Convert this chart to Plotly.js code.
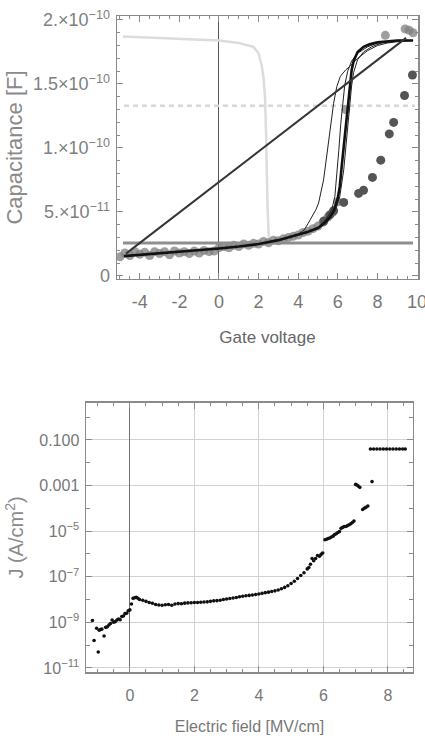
<!DOCTYPE html>
<html>
<head>
<meta charset="utf-8">
<script src="https://cdn.plot.ly/plotly-3.0.1.min.js"></script>
<style>html,body{margin:0;padding:0;background:#fff;}#chart{width:425px;height:738px;}</style>
</head>
<body>
<div id="chart"></div>
<script>
// ---------- Top panel: capacitance vs gate voltage ----------
const lightCurveV = [-4.85, -3, -1, 0, 1, 1.74, 2.0, 2.16, 2.25, 2.33, 2.38, 2.41, 2.45, 2.5, 2.53];
const lightCurveC = [1.87e-10, 1.86e-10, 1.845e-10, 1.84e-10, 1.82e-10, 1.79e-10, 1.74e-10, 1.64e-10, 1.55e-10, 1.38e-10, 1.1e-10, 8e-11, 5.5e-11, 3.5e-11, 2.8e-11];

const dashedLevelV = [-4.8, 9.9];
const dashedLevelC = [1.33e-10, 1.33e-10];

const grayLevelV = [-4.85, 9.8];
const grayLevelC = [2.58e-11, 2.58e-11];

const straightV = [-4.7, 9.45];
const straightC = [1.75e-11, 1.86e-10];

const grayDotsV = [-5.0,-4.75,-4.5,-4.25,-4.0,-3.75,-3.5,-3.25,-3.0,-2.75,-2.5,-2.25,-2.0,-1.75,-1.5,-1.25,-1.0,-0.75,-0.5,-0.25,0.0,0.25,0.5,0.75,1.0,1.25,1.5,1.75,2.0,2.25,2.5,2.75,3.0,3.25,3.5,3.75,4.0,4.25,4.5,4.75,5.0,5.25,5.5,5.75,6.0,6.4,8.4,9.4,9.6,9.8];
const grayDotsC = [1.5e-11,1.8e-11,1.6e-11,1.9e-11,1.7e-11,1.85e-11,1.6e-11,1.9e-11,1.75e-11,1.9e-11,1.65e-11,1.95e-11,1.8e-11,1.9e-11,1.75e-11,1.95e-11,1.8e-11,2.0e-11,1.9e-11,1.95e-11,2.2e-11,2.3e-11,2.2e-11,2.4e-11,2.3e-11,2.5e-11,2.4e-11,2.55e-11,2.5e-11,2.7e-11,2.6e-11,2.8e-11,2.75e-11,2.9e-11,3.0e-11,3.1e-11,3.2e-11,3.4e-11,3.5e-11,3.7e-11,3.9e-11,4.2e-11,4.6e-11,5.0e-11,5.8e-11,1.3e-10,1.88e-10,1.93e-10,1.92e-10,1.9e-10];

const darkDotsV = [5.3, 5.6, 5.79, 6.3, 7.05, 7.3, 7.75, 8.17, 8.6, 8.82, 9.37, 9.77];
const darkDotsC = [4.3e-11, 4.77e-11, 5.1e-11, 5.75e-11, 6.45e-11, 6.7e-11, 7.7e-11, 9.05e-11, 1.11e-10, 1.2e-10, 1.41e-10, 1.57e-10];

const sweepMainV = [-4.8,-4,-3,-2,-1,0,1,2,3,4,4.5,5,5.3,5.6,5.8,6.0,6.1,6.2,6.3,6.4,6.5,6.6,6.7,6.8,7.0,7.3,7.6,8.0,8.5,9.0,9.5,9.8];
const sweepMainC = [1.55e-11,1.65e-11,1.75e-11,1.85e-11,2.0e-11,2.15e-11,2.3e-11,2.5e-11,2.8e-11,3.2e-11,3.45e-11,3.75e-11,4.1e-11,4.6e-11,5.1e-11,6.1e-11,7.0e-11,8.6e-11,1.02e-10,1.18e-10,1.34e-10,1.5e-10,1.61e-10,1.68e-10,1.75e-10,1.79e-10,1.81e-10,1.825e-10,1.835e-10,1.84e-10,1.84e-10,1.84e-10];

const sweepEarlyV = [4.0,4.3,4.5,4.7,4.9,5.03,5.15,5.28,5.4,5.54,5.66,5.79,5.95,6.13,6.4,6.63,7.0,7.5,8.0,8.5,9.0,9.8];
const sweepEarlyC = [3.25e-11,3.6e-11,4.1e-11,4.6e-11,5.2e-11,5.7e-11,6.5e-11,7.5e-11,8.9e-11,1.06e-10,1.2e-10,1.35e-10,1.48e-10,1.56e-10,1.61e-10,1.64e-10,1.7e-10,1.76e-10,1.8e-10,1.82e-10,1.83e-10,1.84e-10];

const sweepMidV = [4.5,5.0,5.4,5.7,5.85,5.95,6.05,6.15,6.25,6.35,6.5,6.7,7.0,7.5,8.0,9.0,9.8];
const sweepMidC = [3.45e-11,3.8e-11,4.4e-11,5.2e-11,6.2e-11,7.8e-11,9.8e-11,1.19e-10,1.36e-10,1.49e-10,1.6e-10,1.68e-10,1.74e-10,1.79e-10,1.82e-10,1.84e-10,1.84e-10];

const sweepLateV = [5.0,5.5,5.9,6.1,6.3,6.4,6.5,6.6,6.7,6.8,7.0,7.3,7.7,8.2,9.0,9.8];
const sweepLateC = [3.7e-11,4.3e-11,5.2e-11,6.2e-11,8.3e-11,1.0e-10,1.18e-10,1.35e-10,1.49e-10,1.59e-10,1.69e-10,1.75e-10,1.79e-10,1.82e-10,1.84e-10,1.84e-10];

const capTickVals = [0, 5e-11, 1e-10, 1.5e-10, 2e-10];
const capTickText = ['0', '5.\u00d710<sup>\u221211</sup>', '1.\u00d710<sup>\u221210</sup>', '1.5\u00d710<sup>\u221210</sup>', '2.\u00d710<sup>\u221210</sup>'];
const gateTickVals = [-4, -2, 0, 2, 4, 6, 8, 10];
const gateTickText = ['-4', '-2', '0', '2', '4', '6', '8', '10'];

// ---------- Bottom panel: J vs electric field ----------
const efield = [-1.16,-1.11,-1.03,-0.98,-0.95,-0.92,-0.87,-0.80,-0.75,-0.70,-0.65,-0.60,-0.55,-0.50,-0.45,-0.40,-0.35,-0.30,-0.25,-0.20,-0.15,-0.10,-0.05,0.0,
  0.05,0.1,0.15,0.2,0.25,0.3,0.4,0.5,0.6,0.7,0.8,0.9,1.0,1.1,1.2,1.3,1.4,1.5,1.6,1.7,1.8,1.9,2.0,2.1,2.2,2.3,2.4,2.5,2.6,2.7,2.8,2.9,3.0,3.1,3.2,3.3,3.4,3.5,3.6,3.7,3.8,3.9,4.0,4.1,4.2,4.3,4.4,4.5,4.6,4.7,4.8,4.9,5.0,5.1,5.2,5.3,5.4,5.5,
  5.55,5.6,5.65,5.7,5.76,5.82,5.88,5.93,5.98,6.05,6.1,6.15,6.2,6.25,6.3,6.35,6.4,6.45,6.5,6.55,6.6,6.65,6.7,6.75,6.8,6.85,6.9,6.95,
  7.0,7.04,7.08,7.13,7.22,7.27,7.32,7.38,7.51,
  7.46,7.56,7.66,7.76,7.86,7.96,8.06,8.16,8.26,8.36,8.46,8.54];
const currentDensity = [1.2e-9,1.6e-10,5.5e-10,5e-11,4.5e-10,4.8e-10,5e-10,2.5e-10,6e-10,6.3e-10,7.6e-10,8.9e-10,1.26e-9,1.0e-9,1.07e-9,1.26e-9,1.4e-9,1.3e-9,1.8e-9,1.9e-9,2.4e-9,2.5e-9,3.2e-9,3.5e-9,
  6.3e-9,1.12e-8,1.2e-8,1.26e-8,1.12e-8,1.0e-8,9.3e-9,8.3e-9,7.4e-9,6.8e-9,6.0e-9,5.75e-9,5.6e-9,5.9e-9,6.0e-9,5.6e-9,6.3e-9,6.6e-9,6.5e-9,6.9e-9,7.1e-9,7.2e-9,7.4e-9,7.4e-9,7.6e-9,7.8e-9,7.9e-9,8.3e-9,8.7e-9,8.9e-9,9.3e-9,1.0e-8,1.05e-8,1.1e-8,1.17e-8,1.23e-8,1.32e-8,1.38e-8,1.45e-8,1.51e-8,1.58e-8,1.66e-8,1.74e-8,1.86e-8,2.0e-8,2.1e-8,2.24e-8,2.4e-8,2.6e-8,2.95e-8,3.4e-8,4.0e-8,5.0e-8,6.3e-8,8.3e-8,1.12e-7,1.5e-7,2.2e-7,
  2.5e-7,3.5e-7,6.3e-7,5.0e-7,6.3e-7,8.5e-7,7.9e-7,9.5e-7,1.1e-6,4.2e-6,4.4e-6,4.7e-6,5.0e-6,5.5e-6,6.0e-6,7.1e-6,7.6e-6,8.7e-6,9.5e-6,1.32e-5,1.45e-5,1.58e-5,1.58e-5,1.74e-5,1.9e-5,2.1e-5,2.4e-5,2.75e-5,
  1.12e-3,1.05e-3,9.5e-4,8.3e-4,8.9e-5,1.0e-4,1.1e-4,1.26e-4,1.48e-3,
  0.04,0.04,0.04,0.04,0.04,0.04,0.04,0.04,0.04,0.04,0.04,0.04];

const jTickVals = [0.1, 0.001, 1e-5, 1e-7, 1e-9, 1e-11];
const jTickText = ['0.100', '0.001', '10<sup>\u22125</sup>', '10<sup>\u22127</sup>', '10<sup>\u22129</sup>', '10<sup>\u221211</sup>'];
const jMinorVals = [1, 0.01, 1e-4, 1e-6, 1e-8, 1e-10];

const FONT = '"Liberation Sans", Arial, sans-serif';

function line(x, y, color, width, extra) {
  return Object.assign({x: x, y: y, type: 'scatter', mode: 'lines', xaxis: 'x', yaxis: 'y',
    line: {color: color, width: width}, hoverinfo: 'skip'}, extra || {});
}

const traces = [
  line(lightCurveV, lightCurveC, '#dcdcdc', 2.5),
  line(dashedLevelV, dashedLevelC, '#d8d8d8', 2.5, {line: {color: '#d8d8d8', width: 2.5, dash: '5px,4px'}}),
  {x: grayDotsV, y: grayDotsC, type: 'scatter', mode: 'markers', xaxis: 'x', yaxis: 'y',
   marker: {color: 'rgba(125,125,125,0.75)', size: 9}},
  {x: darkDotsV, y: darkDotsC, type: 'scatter', mode: 'markers', xaxis: 'x', yaxis: 'y',
   marker: {color: '#555555', size: 9}},
  line(grayLevelV, grayLevelC, '#8e8e8e', 3),
  line(sweepLateV, sweepLateC, '#222', 1),
  line(sweepMidV, sweepMidC, '#222', 1),
  line(sweepEarlyV, sweepEarlyC, '#222', 1),
  line(sweepMainV, sweepMainC, '#111', 2.6),
  line(straightV, straightC, '#353535', 2),
  {x: efield, y: currentDensity, type: 'scatter', mode: 'markers', xaxis: 'x2', yaxis: 'y2',
   marker: {color: '#111', size: 3.6}}
];

const frame = {showline: true, linecolor: '#8a8a8a', linewidth: 1.5, mirror: 'ticks', ticks: 'inside',
  tickcolor: '#8a8a8a', tickwidth: 1, ticklen: 6, ticklabeloverflow: 'allow'};

const layout = {
  width: 425, height: 738,
  margin: {l: 86, r: 7, t: 16, b: 66},
  paper_bgcolor: '#fff', plot_bgcolor: '#fff',
  showlegend: false,
  xaxis: Object.assign({}, frame, {
    domain: [0.0934, 1], anchor: 'y', range: [-5.15, 10.05],
    tickmode: 'array', tickvals: gateTickVals, ticktext: gateTickText,
    minor: {tickmode: 'linear', tick0: 0, dtick: 0.5, ticks: 'inside', ticklen: 3, tickcolor: '#8a8a8a'},
    showgrid: false, zeroline: true, zerolinecolor: '#555', zerolinewidth: 1,
    ticklabelstandoff: 6,
    tickfont: {family: FONT, size: 18, color: '#777'},
    title: {text: 'Gate voltage', font: {family: FONT, size: 17, color: '#666'}, standoff: 20}
  }),
  yaxis: Object.assign({}, frame, {
    domain: [0.5991, 1], anchor: 'x', range: [-2.34e-12, 2.031e-10],
    tickmode: 'array', tickvals: capTickVals, ticktext: capTickText,
    minor: {tickmode: 'linear', tick0: 0, dtick: 1e-11, ticks: 'inside', ticklen: 3, tickcolor: '#8a8a8a'},
    showgrid: false, zeroline: false,
    ticklabelstandoff: 2,
    tickfont: {family: FONT, size: 18, color: '#808080'},
    title: {text: 'Capacitance [F]', font: {family: FONT, size: 22, color: '#8a8a8a'}, standoff: 4}
  }),
  xaxis2: Object.assign({}, frame, {
    domain: [0, 0.9849], anchor: 'y2', range: [-1.36, 8.78],
    tickmode: 'linear', tick0: 0, dtick: 2,
    minor: {tickmode: 'linear', tick0: 0, dtick: 0.5, ticks: 'inside', ticklen: 3, tickcolor: '#8a8a8a'},
    showgrid: true, gridcolor: '#d2d2d2', gridwidth: 1,
    zeroline: true, zerolinecolor: '#707070', zerolinewidth: 1,
    ticklabelstandoff: 8,
    tickfont: {family: FONT, size: 16, color: '#777'},
    title: {text: 'Electric field [MV/cm]', font: {family: FONT, size: 16, color: '#777'}, standoff: 18}
  }),
  yaxis2: Object.assign({}, frame, {
    type: 'log', domain: [0, 0.4101], anchor: 'x2', range: [-11.18, 0.62],
    tickmode: 'array', tickvals: jTickVals, ticktext: jTickText,
    minor: {tickmode: 'array', tickvals: jMinorVals, ticks: 'inside', ticklen: 4, tickcolor: '#8a8a8a'},
    showgrid: true, gridcolor: '#d2d2d2', gridwidth: 1,
    ticklabelstandoff: 2,
    tickfont: {family: FONT, size: 16, color: '#777'},
    title: {text: 'J (A/cm<sup>2</sup>)', font: {family: FONT, size: 20, color: '#8a8a8a'}, standoff: 10}
  })
};

Plotly.newPlot('chart', traces, layout, {displayModeBar: false, staticPlot: true});
</script>
</body>
</html>
